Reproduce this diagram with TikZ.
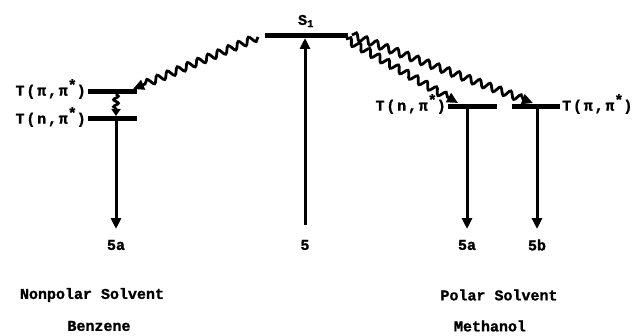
\documentclass[tikz,border=0pt]{standalone}
\usepackage{fontspec}
\setmainfont{Liberation Mono}[BoldFont={Liberation Mono Bold},BoldFeatures={FakeBold=1.2}]
\usetikzlibrary{arrows.meta,decorations.pathmorphing}
\newcommand{\sstar}{\raisebox{0.7ex}{*}}
\begin{document}
\begin{tikzpicture}[x=1pt,y=1pt,
  level/.style={fill=black,inner sep=0pt,minimum height=5pt},
  txt/.style={font=\fontsize{15}{17}\selectfont\bfseries,inner sep=1pt},
  tlab/.style={txt,font=\fontsize{15}{17}\selectfont\bfseries\addfontfeatures{LetterSpace=12}},
  uparrow/.style={line width=3pt,-{Triangle[length=11pt,width=10pt]}},
  wavy/.style={line width=2.8pt,-{Triangle[length=11pt,width=10pt]},
    decorate,decoration={snake,amplitude=3.5pt,segment length=11pt,post length=8pt}},
  shortwavy/.style={line width=2.6pt,-{Triangle[length=7pt,width=9pt]},
    decorate,decoration={snake,amplitude=2.5pt,segment length=7pt,post length=5pt}}]
\useasboundingbox (0,0) rectangle (642,335);
% levels
\node[level,minimum width=83pt] (s1) at (306.5,299) {};
\node[level,minimum width=49pt] (ltpp) at (112.5,243) {};
\node[level,minimum width=49pt] (ltnp) at (112.5,216) {};
\node[level,minimum width=49pt] (rtnp) at (472.5,228) {};
\node[level,minimum width=48pt] (rtpp) at (536,228) {};
% level labels
\node[txt] (s1lab) at (306,314) {S\textsubscript{1}};
\node[tlab,anchor=east] (ltpplab) at (87,246) {T(π,π\sstar)};
\node[tlab,anchor=east] (ltnplab) at (87,218) {T(n,π\sstar)};
\node[tlab,anchor=east] (rtnplab) at (447,231) {T(n,π\sstar)};
\node[tlab,anchor=west] (rtpplab) at (561,231) {T(π,π\sstar)};
% product labels
\node[txt] (p5al) at (116,90) {5a};
\node[txt] (p5) at (305,90) {5};
\node[txt] (p5ar) at (467,90) {5a};
\node[txt] (p5b) at (537,90) {5b};
% solvent labels
\node[txt] (nps) at (92,40) {Nonpolar Solvent};
\node[txt] (benz) at (99,9) {Benzene};
\node[txt] (ps) at (499,40) {Polar Solvent};
\node[txt] (meth) at (490,9) {Methanol};
% coordinates for arrow ends
\coordinate (a5top) at (305,297);
\coordinate (a5bot) at (305,110);
\coordinate (lwstart) at (258,298);
\coordinate (lwend) at (133,246);
\coordinate (rw1start) at (346,296);
\coordinate (rw1end) at (458,232);
\coordinate (rw2start) at (352,300);
\coordinate (rw2end) at (533,232);
\coordinate (lstop) at (116,241);
\coordinate (lsbot) at (116,219);
\coordinate (ldtop) at (116,214);
\coordinate (ldbot) at (116,106);
\coordinate (r1top) at (467,226);
\coordinate (r1bot) at (467,106);
\coordinate (r2top) at (537,226);
\coordinate (r2bot) at (537,106);
% arrows
\draw[uparrow] (a5bot) -- (a5top);
\draw[wavy] (lwstart) -- (lwend);
\draw[wavy] (rw1start) -- (rw1end);
\draw[wavy] (rw2start) -- (rw2end);
\draw[shortwavy] (lstop) -- (lsbot);
\draw[uparrow] (ldtop) -- (ldbot);
\draw[uparrow] (r1top) -- (r1bot);
\draw[uparrow] (r2top) -- (r2bot);
\end{tikzpicture}
\end{document}
